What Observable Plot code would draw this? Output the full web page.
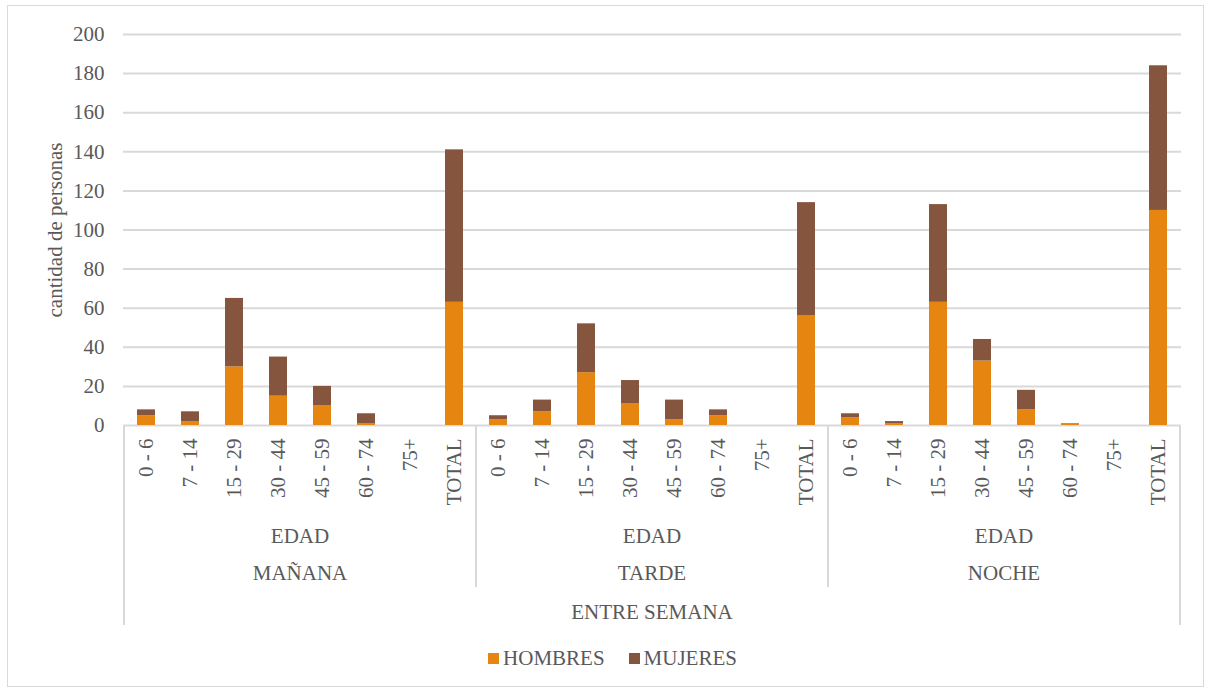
<!DOCTYPE html>
<html>
<head>
<meta charset="utf-8">
<script src="https://cdn.jsdelivr.net/npm/d3@7"></script>
<script src="https://cdn.jsdelivr.net/npm/@observablehq/plot@0.6"></script>
<style>
  html, body { margin: 0; padding: 0; background: #fff; }
  #wrap { position: relative; width: 1209px; height: 691px; overflow: hidden; font-family: "Liberation Serif", "Times New Roman", serif; color: #595959; }
  #border { position: absolute; left: 7px; top: 5px; width: 1195px; height: 680px; border: 1px solid #d9d9d9; pointer-events: none; }
  #chart { position: absolute; left: 0; top: 0; }
  #legend { position: absolute; left: 0; top: 640px; width: 1209px; height: 36px; display: flex; justify-content: center; align-items: center; font-size: 21px; padding-left: 16px; box-sizing: border-box; }
  .item { display: flex; align-items: center; margin: 0 12px; }
  .sw { width: 11px; height: 11px; margin-right: 4px; }
</style>
</head>
<body>
<div id="wrap">
  <div id="chart"></div>
  <div id="legend"></div>
  <div id="border"></div>
</div>
<script>
// ---- data ----
const periods = ["MAÑANA", "TARDE", "NOCHE"];
const ages = ["0 - 6", "7 - 14", "15 - 29", "30 - 44", "45 - 59", "60 - 74", "75+", "TOTAL"];
const series = ["HOMBRES", "MUJERES"];
const colors = ["#E6850F", "#86553E"];
const hombresManana = [5, 2, 30, 15, 10, 1, 0, 63];
const mujeresManana = [3, 5, 35, 20, 10, 5, 0, 78];
const hombresTarde  = [3, 7, 27, 11, 3, 5, 0, 56];
const mujeresTarde  = [2, 6, 25, 12, 10, 3, 0, 58];
const hombresNoche  = [4, 1, 63, 33, 8, 1, 0, 110];
const mujeresNoche  = [2, 1, 50, 11, 10, 0, 0, 74];
const yTicks = [0, 20, 40, 60, 80, 100, 120, 140, 160, 180, 200];
const groupLabel = "EDAD";
const outerLabel = "ENTRE SEMANA";
const yLabel = "cantidad de personas";

const valuesBy = {
  "MAÑANA": [hombresManana, mujeresManana],
  "TARDE": [hombresTarde, mujeresTarde],
  "NOCHE": [hombresNoche, mujeresNoche]
};

const rows = [];
for (const p of periods) {
  ages.forEach((a, i) => {
    series.forEach((s, j) => {
      rows.push({key: p + "|" + a, period: p, age: a, sexo: s, value: valuesBy[p][j][i]});
    });
  });
}
const keys = periods.flatMap(p => ages.map(a => p + "|" + a));
const labelRows = rows.filter(r => r.sexo === series[0]);

const FS = 21;
const W = 1209, H = 640;
const plot = Plot.plot({
  width: W,
  height: H,
  marginLeft: 123,
  marginRight: 28,
  marginTop: 34,
  marginBottom: 215,
  style: {fontFamily: "'Liberation Serif', 'Times New Roman', serif", fontSize: FS + "px", color: "#595959", background: "transparent"},
  x: {type: "band", domain: keys, padding: 0, axis: null},
  y: {domain: [0, 200], axis: null},
  color: {domain: series, range: colors},
  marks: [
    Plot.gridY(yTicks, {stroke: "#d9d9d9", strokeOpacity: 1, strokeWidth: 2}),
    Plot.axisY({ticks: yTicks, tickSize: 0, tickPadding: 19, label: null, fontSize: FS}),
    Plot.text([yLabel], {frameAnchor: "left", textAnchor: "middle", lineAnchor: "middle", dx: -68, rotate: -90, fontSize: FS, fill: "#595959"}),
    Plot.barY(rows, {x: "key", y: "value", fill: "sexo", insetLeft: 13, insetRight: 13}),
    Plot.text(labelRows, {x: "key", text: "age", frameAnchor: "bottom", rotate: -90, textAnchor: "end", lineAnchor: "middle", dy: 13, fontSize: FS, fill: "#595959"})
  ]
});
document.getElementById("chart").appendChild(plot);

// multi-level category axis below the bars, positioned with the plot's x scale
const sx = plot.scale("x");
const bw = sx.bandwidth;
const svg = d3.select(plot);
const g = svg.append("g").attr("fill", "#595959").attr("font-size", FS)
  .attr("font-family", "'Liberation Serif', 'Times New Roman', serif");
const y0 = 425;
const firstX = sx.apply(keys[0]);
const lastX = sx.apply(keys[keys.length - 1]) + bw;
periods.forEach((p, i) => {
  const l = sx.apply(p + "|" + ages[0]);
  const r = sx.apply(p + "|" + ages[ages.length - 1]) + bw;
  const c = (l + r) / 2;
  if (i > 0) g.append("line").attr("x1", l).attr("x2", l).attr("y1", y0).attr("y2", 587)
    .attr("stroke", "#d9d9d9").attr("stroke-width", 2);
  g.append("text").attr("x", c).attr("y", 536).attr("text-anchor", "middle").attr("dy", "0.35em").text(groupLabel);
  g.append("text").attr("x", c).attr("y", 573).attr("text-anchor", "middle").attr("dy", "0.35em").text(p);
});
[firstX, lastX].forEach(x => g.append("line").attr("x1", x).attr("x2", x).attr("y1", y0).attr("y2", 625)
  .attr("stroke", "#d9d9d9").attr("stroke-width", 2));
g.append("text").attr("x", (firstX + lastX) / 2).attr("y", 612).attr("text-anchor", "middle").attr("dy", "0.35em").text(outerLabel);

// legend
const leg = d3.select("#legend");
series.forEach((s, i) => {
  const it = leg.append("div").attr("class", "item");
  it.append("div").attr("class", "sw").style("background", colors[i]);
  it.append("span").text(s);
});
</script>
</body>
</html>
